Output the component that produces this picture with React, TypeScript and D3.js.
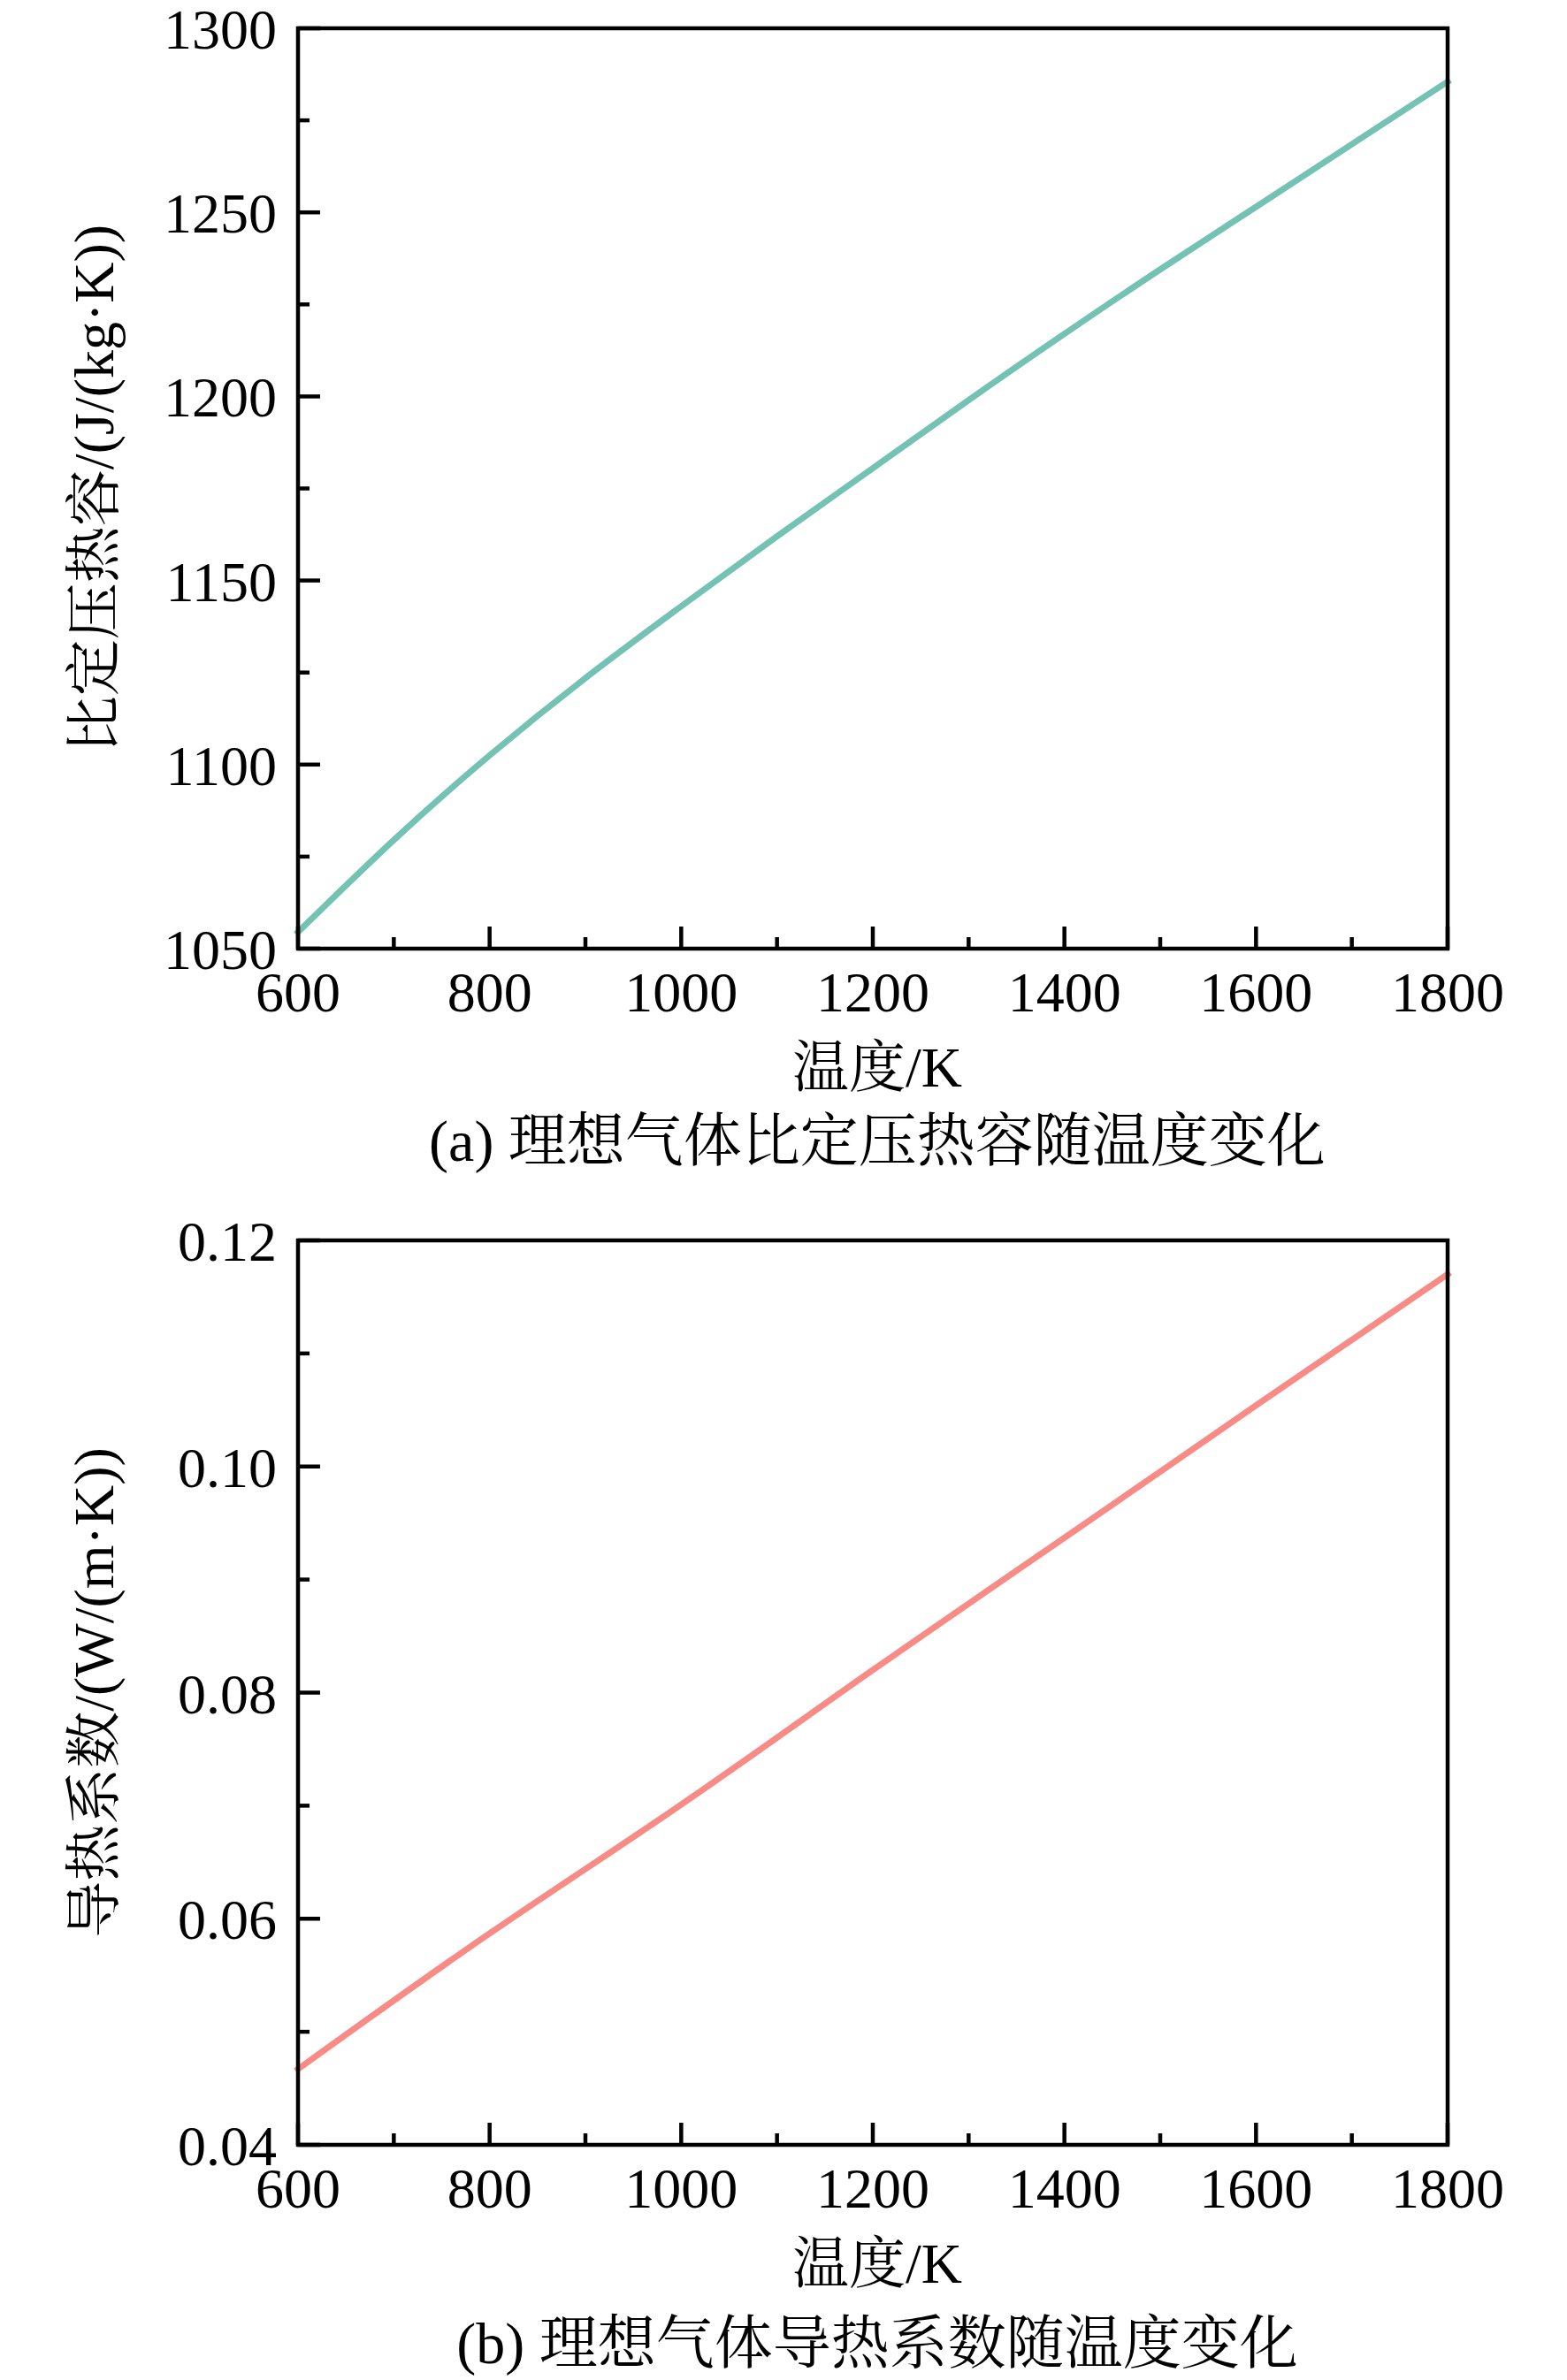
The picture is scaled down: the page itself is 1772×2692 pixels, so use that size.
import React from "react";
import * as d3 from "d3";

// Panel (a): specific heat at constant pressure vs temperature
const cpTemps = [600, 700, 800, 900, 1000, 1100, 1200, 1300, 1400, 1500, 1600, 1700, 1800];
const cpValues = [1054.5, 1079.5, 1102.5, 1123.5, 1143, 1162, 1180.5, 1199, 1217, 1234.5, 1251.5, 1268.5, 1285.5];

// Panel (b): thermal conductivity vs temperature
const kTemps = [600, 800, 1000, 1200, 1400, 1600, 1800];
const kValues = [0.0467, 0.0587, 0.0701, 0.082, 0.0937, 0.1054, 0.117];

const xTicks = [600, 800, 1000, 1200, 1400, 1600, 1800];
const xMinorTicks = [700, 900, 1100, 1300, 1500, 1700];
const cpTicks = [1050, 1100, 1150, 1200, 1250, 1300];
const cpMinorTicks = [1075, 1125, 1175, 1225, 1275];
const kTicks = [0.04, 0.06, 0.08, 0.1, 0.12];
const kMinorTicks = [0.05, 0.07, 0.09, 0.11];

const FONT = "'Liberation Serif', 'Times New Roman', 'Noto Serif CJK SC', 'Noto Sans CJK SC', serif";
const W = 1772;
const H = 2692;

type PanelProps = {
  top: number;
  bottom: number;
  temps: number[];
  values: number[];
  yDomain: [number, number];
  yTicks: number[];
  yMinor: number[];
  yFormat: (v: number) => string;
  color: string;
  yLabel: string;
  caption: string;
  captionOffset: number;
};

function Panel(p: PanelProps) {
  const left = 337;
  const right = 1637;
  const x = d3.scaleLinear().domain([600, 1800]).range([left, right]);
  const y = d3.scaleLinear().domain(p.yDomain).range([p.bottom, p.top]);
  const line = d3
    .line<number>()
    .x((_, i) => x(p.temps[i]))
    .y((d) => y(d))
    .curve(d3.curveNatural);
  const major = 25;
  const minor = 13;
  const sw = 4.5;
  const cx = (left + right) / 2;
  return (
    <g>
      <path d={line(p.values) || ""} fill="none" stroke={p.color} strokeWidth={7} strokeLinecap="square" />
      <rect x={left} y={p.top} width={right - left} height={p.bottom - p.top} fill="none" stroke="#000" strokeWidth={sw} />
      {xTicks.map((t) => (
        <line key={"xm" + t} x1={x(t)} x2={x(t)} y1={p.bottom} y2={p.bottom - major} stroke="#000" strokeWidth={sw} />
      ))}
      {xMinorTicks.map((t) => (
        <line key={"xn" + t} x1={x(t)} x2={x(t)} y1={p.bottom} y2={p.bottom - minor} stroke="#000" strokeWidth={sw} />
      ))}
      {p.yTicks.map((t) => (
        <line key={"ym" + t} x1={left} x2={left + major} y1={y(t)} y2={y(t)} stroke="#000" strokeWidth={sw} />
      ))}
      {p.yMinor.map((t) => (
        <line key={"yn" + t} x1={left} x2={left + minor} y1={y(t)} y2={y(t)} stroke="#000" strokeWidth={sw} />
      ))}
      {xTicks.map((t) => (
        <text key={"xl" + t} x={x(t)} y={p.bottom + 71} textAnchor="middle" fontSize={64} fontFamily={FONT}>
          {t}
        </text>
      ))}
      {p.yTicks.map((t) => (
        <text key={"yl" + t} x={left - 24} y={y(t) + 23} textAnchor="end" fontSize={64} fontFamily={FONT}>
          {p.yFormat(t)}
        </text>
      ))}
      <text x={cx + 5} y={p.bottom + 156} textAnchor="middle" fontSize={64} fontFamily={FONT}>
        温度/K
      </text>
      <text
        transform={`translate(106, ${(p.top + p.bottom) / 2}) rotate(-90)`}
        textAnchor="middle"
        dominantBaseline="central"
        fontSize={64}
        fontFamily={FONT}
      >
        {p.yLabel}
      </text>
      <text x={cx + 5} y={p.bottom + p.captionOffset} textAnchor="middle" fontSize={66} fontFamily={FONT}>
        {p.caption}
      </text>
    </g>
  );
}

export default function App() {
  return (
    <svg
      width={W}
      height={H}
      viewBox={`0 0 ${W} ${H}`}
      style={{ position: "absolute", left: 0, top: 0, background: "#fff" }}
    >
      <rect x={0} y={0} width={W} height={H} fill="#fff" />
      <Panel
        top={32}
        bottom={1073}
        temps={cpTemps}
        values={cpValues}
        yDomain={[1050, 1300]}
        yTicks={cpTicks}
        yMinor={cpMinorTicks}
        yFormat={(v) => d3.format("d")(v)}
        color="#73C2B4"
        yLabel="比定压热容/(J/(kg·K))"
        caption="(a) 理想气体比定压热容随温度变化"
        captionOffset={240}
      />
      <Panel
        top={1403}
        bottom={2426}
        temps={kTemps}
        values={kValues}
        yDomain={[0.04, 0.12]}
        yTicks={kTicks}
        yMinor={kMinorTicks}
        yFormat={(v) => d3.format(".2f")(v)}
        color="#F98B86"
        yLabel="导热系数/(W/(m·K))"
        caption="(b) 理想气体导热系数随温度变化"
        captionOffset={247}
      />
    </svg>
  );
}
